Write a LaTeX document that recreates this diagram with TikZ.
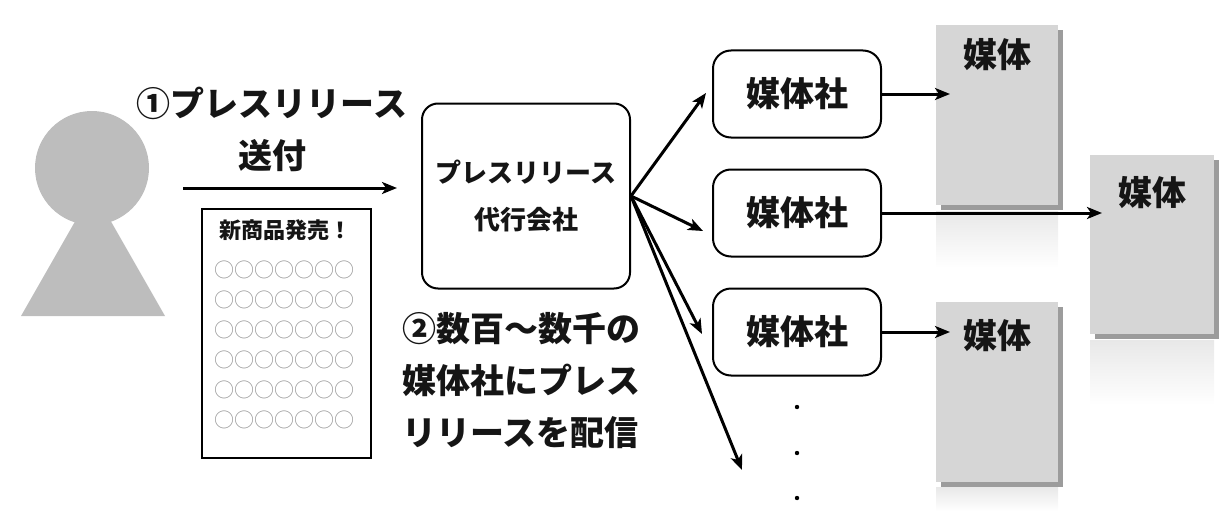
\documentclass[tikz,border=0pt]{standalone}
\usepackage{fontspec}
\setmainfont{Noto Sans CJK JP}
\usepackage{tikz}
\usetikzlibrary{arrows.meta}
\usetikzlibrary{shapes,positioning,calc,shadows}
\definecolor{persongray}{HTML}{BDBDBD}
\definecolor{mediagray}{HTML}{D6D6D6}
\definecolor{shadowgray}{HTML}{9C9C9C}
\definecolor{ringgray}{HTML}{9A9A9A}
\definecolor{inkgray}{HTML}{151515}
\tikzset{
  arr/.style={->, line width=3pt},
  agencybox/.style={draw, line width=2pt, rounded corners=16pt, minimum width=208pt, minimum height=185pt, align=center, text=inkgray, font=\fontsize{26}{47}\selectfont\bfseries},
  company/.style={draw, line width=2pt, rounded corners=18pt, minimum width=168pt, minimum height=87pt, text=inkgray, font=\fontsize{34}{40}\selectfont\bfseries},
  media/.style={fill=mediagray, anchor=north west, minimum width=122pt, minimum height=180pt, inner sep=0pt, drop shadow={shadow xshift=5pt, shadow yshift=-5pt, fill=shadowgray, opacity=1}},
  bigtext/.style={inner sep=0pt, text=inkgray, font=\fontsize{34}{52}\selectfont\bfseries},
}

\begin{document}
\begin{tikzpicture}[x=1pt, y=-1pt, >={Stealth[length=15pt, width=12pt, inset=4pt]}]
			\useasboundingbox (0,0) rectangle (1220,511);
			% person
			\fill[persongray] (93,190) -- (21,316) -- (165,316) -- cycle;
			\fill[persongray] (92,168) circle (57pt);
			% step 1
			\node[bigtext, align=center] (send) at (272,129) {①プレスリリース\\送付};
			\coordinate (from) at (183,188);
			\node[agencybox] (agency) at (526,196) {プレスリリース\\代行会社};
			\draw[arr] (from) -- (from -| agency.west) [shorten >=24pt];
			% release sheet
			\node[draw, line width=1.5pt, anchor=north west, minimum width=169pt, minimum height=249pt] (doc) at (201,208) {};
			\node[inner sep=0pt, text=inkgray, font=\fontsize{22}{22}\selectfont\bfseries] (doctitle) at (285,230) {新商品発売！};
			\foreach \r in {0,...,5}
				\node[inner sep=0pt, text=ringgray, font=\fontsize{20}{20}\selectfont] (row\r) at (284,270+30*\r) {○○○○○○○};
			% step 2
			\node[bigtext, align=left, anchor=west] (spread) at (402,381) {②数百〜数千の\\媒体社にプレス\\リリースを配信};
			% companies
			\node[company] (co1) at (797,94) {媒体社};
			\node[company] (co2) at (797,213) {媒体社};
			\node[company] (co3) at (797,332) {媒体社};
			\foreach \y in {407,453,498}
				\fill (797,\y) circle (2.2pt);
			\coordinate (e1) at (706,93);
			\coordinate (e2) at (703,231);
			\coordinate (e3) at (702,334);
			\coordinate (e4) at (742,470);
			\foreach \e in {e1,e2,e3,e4}
				\draw[arr] (agency.east) -- (\e);
			% media
			\shade[top color=black!9, bottom color=white] (936,211) rectangle (1058,268);
			\shade[top color=black!9, bottom color=white] (1090,340) rectangle (1214,405);
			\shade[top color=black!9, bottom color=white] (936,487) rectangle (1058,511);
			\node[media] (m1) at (936,25) {};
			\node[media, minimum width=124pt, minimum height=179pt] (m2) at (1090,155) {};
			\node[media] (m3) at (936,302) {};
			\node[bigtext] (m1t) at ($(m1.north)+(0,30)$) {媒体};
			\node[bigtext] (m2t) at ($(m2.north)+(0,38)$) {媒体};
			\node[bigtext] (m3t) at ($(m3.north)+(0,34)$) {媒体};
			\draw[arr] (co1.east) -- ($(co1.east -| m1.west)+(14,0)$);
			\draw[arr] (co2.east) -- ($(co2.east -| m2.west)+(12,0)$);
			\draw[arr] (co3.east) -- ($(co3.east -| m3.west)+(14,0)$);
		\end{tikzpicture}
\end{document}
